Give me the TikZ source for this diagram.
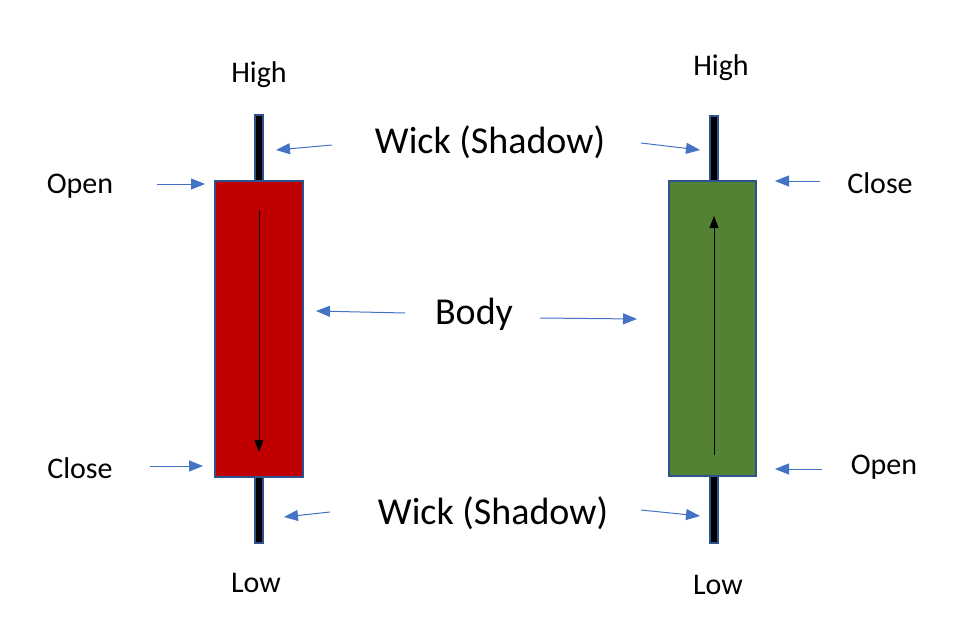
\documentclass[tikz,border=0pt]{standalone}
\usepackage{fontspec}
\setmainfont{Carlito}
\usetikzlibrary{arrows.meta}
\definecolor{blu}{HTML}{4472C4}
\definecolor{edge}{HTML}{2F528F}
\definecolor{redb}{HTML}{C00000}
\definecolor{grnb}{HTML}{548235}
\begin{document}
\begin{tikzpicture}[x=1pt,y=-1pt,
  lbl/.style={font=\fontsize{30}{30}\selectfont, inner sep=0},
  big/.style={font=\fontsize{38}{38}\selectfont, inner sep=0},
  ptr/.style={blu, line width=1pt, -{Triangle[length=14pt,width=11pt]}},
  body/.style={draw=edge, line width=2pt, anchor=north west, inner sep=0},
  wick/.style={draw=edge, fill=black, line width=2pt, anchor=north west, inner sep=0}]
\useasboundingbox (0,0) rectangle (976,618);
% left candle
\node[wick, minimum width=8, minimum height=66] (lwt) at (254,114) {};
\node[wick, minimum width=8, minimum height=66] (lwb) at (254,476) {};
\node[body, fill=redb, minimum width=88, minimum height=296] (lb) at (214,180) {};
% right candle
\node[wick, minimum width=8, minimum height=65] (rwt) at (709,115) {};
\node[wick, minimum width=8, minimum height=67] (rwb) at (709,475) {};
\node[body, fill=grnb, minimum width=87, minimum height=295] (rb) at (668,180) {};
% inner arrows
\coordinate (la1) at (259,210); \coordinate (la2) at (259,452);
\draw[line width=0.8pt, -{Triangle[length=12pt,width=9pt]}] (la1) -- (la2);
\coordinate (ra1) at (714,455); \coordinate (ra2) at (714,216);
\draw[line width=0.8pt, -{Triangle[length=12pt,width=9pt]}] (ra1) -- (ra2);
% labels
\node[lbl] (lh) at (259,75) {High};
\node[lbl] (lo) at (80,186) {Open};
\node[lbl] (lc) at (80,468) {Close};
\node[lbl] (ll) at (256,583) {Low};
\node[lbl] (rh) at (721,68) {High};
\node[lbl] (rc) at (880,183) {Close};
\node[lbl] (ro) at (884,467) {Open};
\node[lbl] (rl) at (718,585) {Low};
\node[big] (wt) at (490,142) {Wick (Shadow)};
\node[big] (wb) at (493,513) {Wick (Shadow)};
\node[big] (bd) at (474,314) {Body};
% pointer arrows
\coordinate (p1) at (157,184); \coordinate (q1) at (205,184);
\draw[ptr] (p1) -- (q1);
\coordinate (p2) at (150,466); \coordinate (q2) at (203,466);
\draw[ptr] (p2) -- (q2);
\coordinate (p3) at (332,145); \coordinate (q3) at (276,150);
\draw[ptr] (p3) -- (q3);
\coordinate (p4) at (641,143); \coordinate (q4) at (700,150);
\draw[ptr] (p4) -- (q4);
\coordinate (p5) at (820,181); \coordinate (q5) at (775,181);
\draw[ptr] (p5) -- (q5);
\coordinate (p6) at (822,469); \coordinate (q6) at (775,469);
\draw[ptr] (p6) -- (q6);
\coordinate (p7) at (405,313); \coordinate (q7) at (316,311);
\draw[ptr] (p7) -- (q7);
\coordinate (p8) at (540,318); \coordinate (q8) at (637,319);
\draw[ptr] (p8) -- (q8);
\coordinate (p9) at (330,512); \coordinate (q9) at (284,517);
\draw[ptr] (p9) -- (q9);
\coordinate (p10) at (641,510); \coordinate (q10) at (700,516);
\draw[ptr] (p10) -- (q10);
\end{tikzpicture}
\end{document}
